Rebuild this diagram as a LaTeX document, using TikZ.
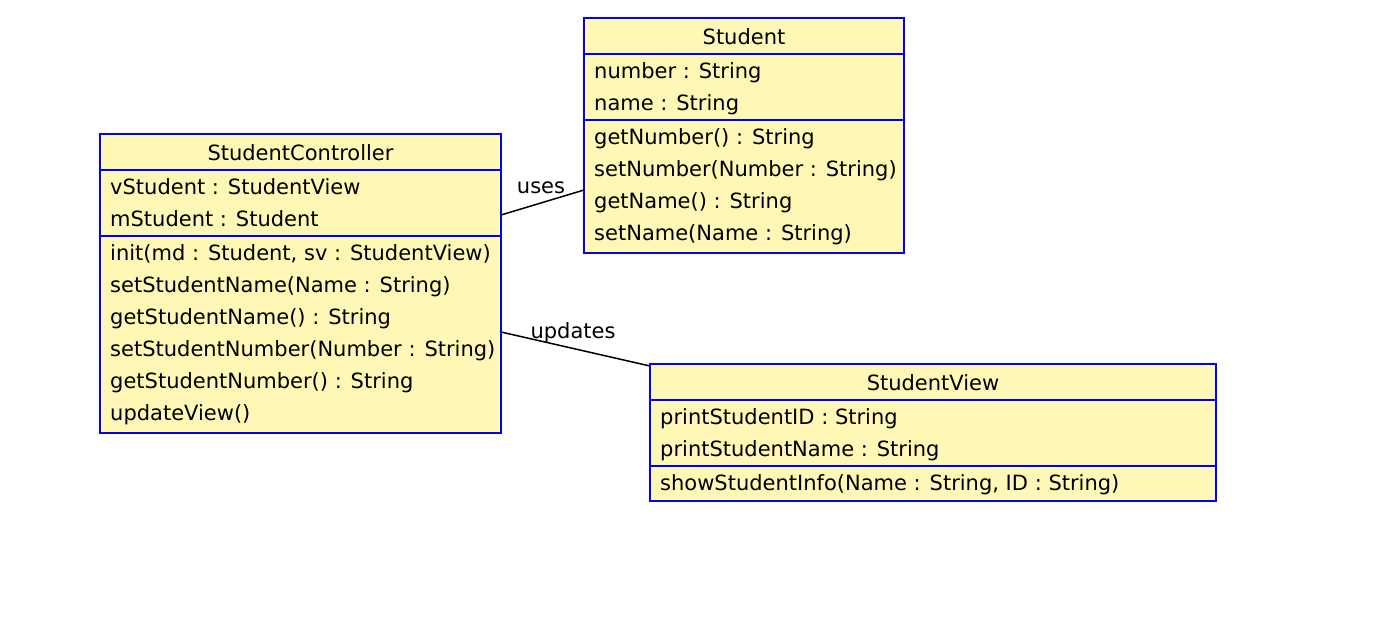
\documentclass[tikz,border=0pt]{standalone}
\usepackage{fontspec}
\setmainfont{DejaVu Sans}
\begin{document}
\begin{tikzpicture}[x=1pt,y=-1pt,
  classbox/.style={draw=umlblue, fill=umlfill, line width=2pt, inner sep=0pt, outer sep=0pt},
  sep/.style={draw=umlblue, line width=2pt},
  txt/.style={anchor=base west, inner sep=0pt, font=\fontsize{21}{24}\selectfont},
  ttl/.style={anchor=base, inner sep=0pt, font=\fontsize{21}{24}\selectfont},
  lbl/.style={anchor=base, inner sep=0pt, font=\fontsize{21}{24}\selectfont},
  conn/.style={draw=black, line width=1.5pt}]
\definecolor{umlblue}{RGB}{0,0,255}
\definecolor{umlfill}{RGB}{255,247,181}
\useasboundingbox (0,0) rectangle (1390,616);
\fill[white] (0,0) rectangle (1390,616);
% StudentController
\node[classbox, minimum width=401pt, minimum height=299pt] (ctrl) at (300.5,283.5) {};
\draw[sep] (ctrl.west |- 0,170) -- (ctrl.east |- 0,170);
\draw[sep] (ctrl.west |- 0,236) -- (ctrl.east |- 0,236);
\node[ttl] (ctrlt) at (300.5,160) {StudentController};
\node[txt] (c1) at (110,194) {vStudent : StudentView};
\node[txt] (c2) at (110,226) {mStudent : Student};
\node[txt] (c3) at (110,260) {init(md : Student, sv : StudentView)};
\node[txt] (c4) at (110,292) {setStudentName(Name : String)};
\node[txt] (c5) at (110,324) {getStudentName() : String};
\node[txt] (c6) at (110,356) {setStudentNumber(Number : String)};
\node[txt] (c7) at (110,388) {getStudentNumber() : String};
\node[txt] (c8) at (110,420) {updateView()};
% Student
\node[classbox, minimum width=320pt, minimum height=235pt] (stud) at (744,135.5) {};
\draw[sep] (stud.west |- 0,54) -- (stud.east |- 0,54);
\draw[sep] (stud.west |- 0,120) -- (stud.east |- 0,120);
\node[ttl] (studt) at (744,44) {Student};
\node[txt] (s1) at (594,78) {number : String};
\node[txt] (s2) at (594,110) {name : String};
\node[txt] (s3) at (594,144) {getNumber() : String};
\node[txt] (s4) at (594,176) {setNumber(Number : String)};
\node[txt] (s5) at (594,208) {getName() : String};
\node[txt] (s6) at (594,240) {setName(Name : String)};
% StudentView
\node[classbox, minimum width=566pt, minimum height=137pt] (view) at (933,432.5) {};
\draw[sep] (view.west |- 0,400) -- (view.east |- 0,400);
\draw[sep] (view.west |- 0,466) -- (view.east |- 0,466);
\node[ttl] (viewt) at (933,390) {StudentView};
\node[txt] (v1) at (660,424) {printStudentID : String};
\node[txt] (v2) at (660,456) {printStudentName : String};
\node[txt] (v3) at (660,490) {showStudentInfo(Name : String, ID : String)};
% connectors
\coordinate (u1) at (ctrl.east |- 0,215);
\coordinate (u2) at (stud.west |- 0,190);
\draw[conn] (u1) -- (u2);
\node[lbl] (ul) at (541,193) {uses};
\coordinate (p1) at (ctrl.east |- 0,332);
\coordinate (p2) at (650,366);
\draw[conn] (p1) -- (p2);
\node[lbl] (pl) at (573,338) {updates};
\end{tikzpicture}
\end{document}
